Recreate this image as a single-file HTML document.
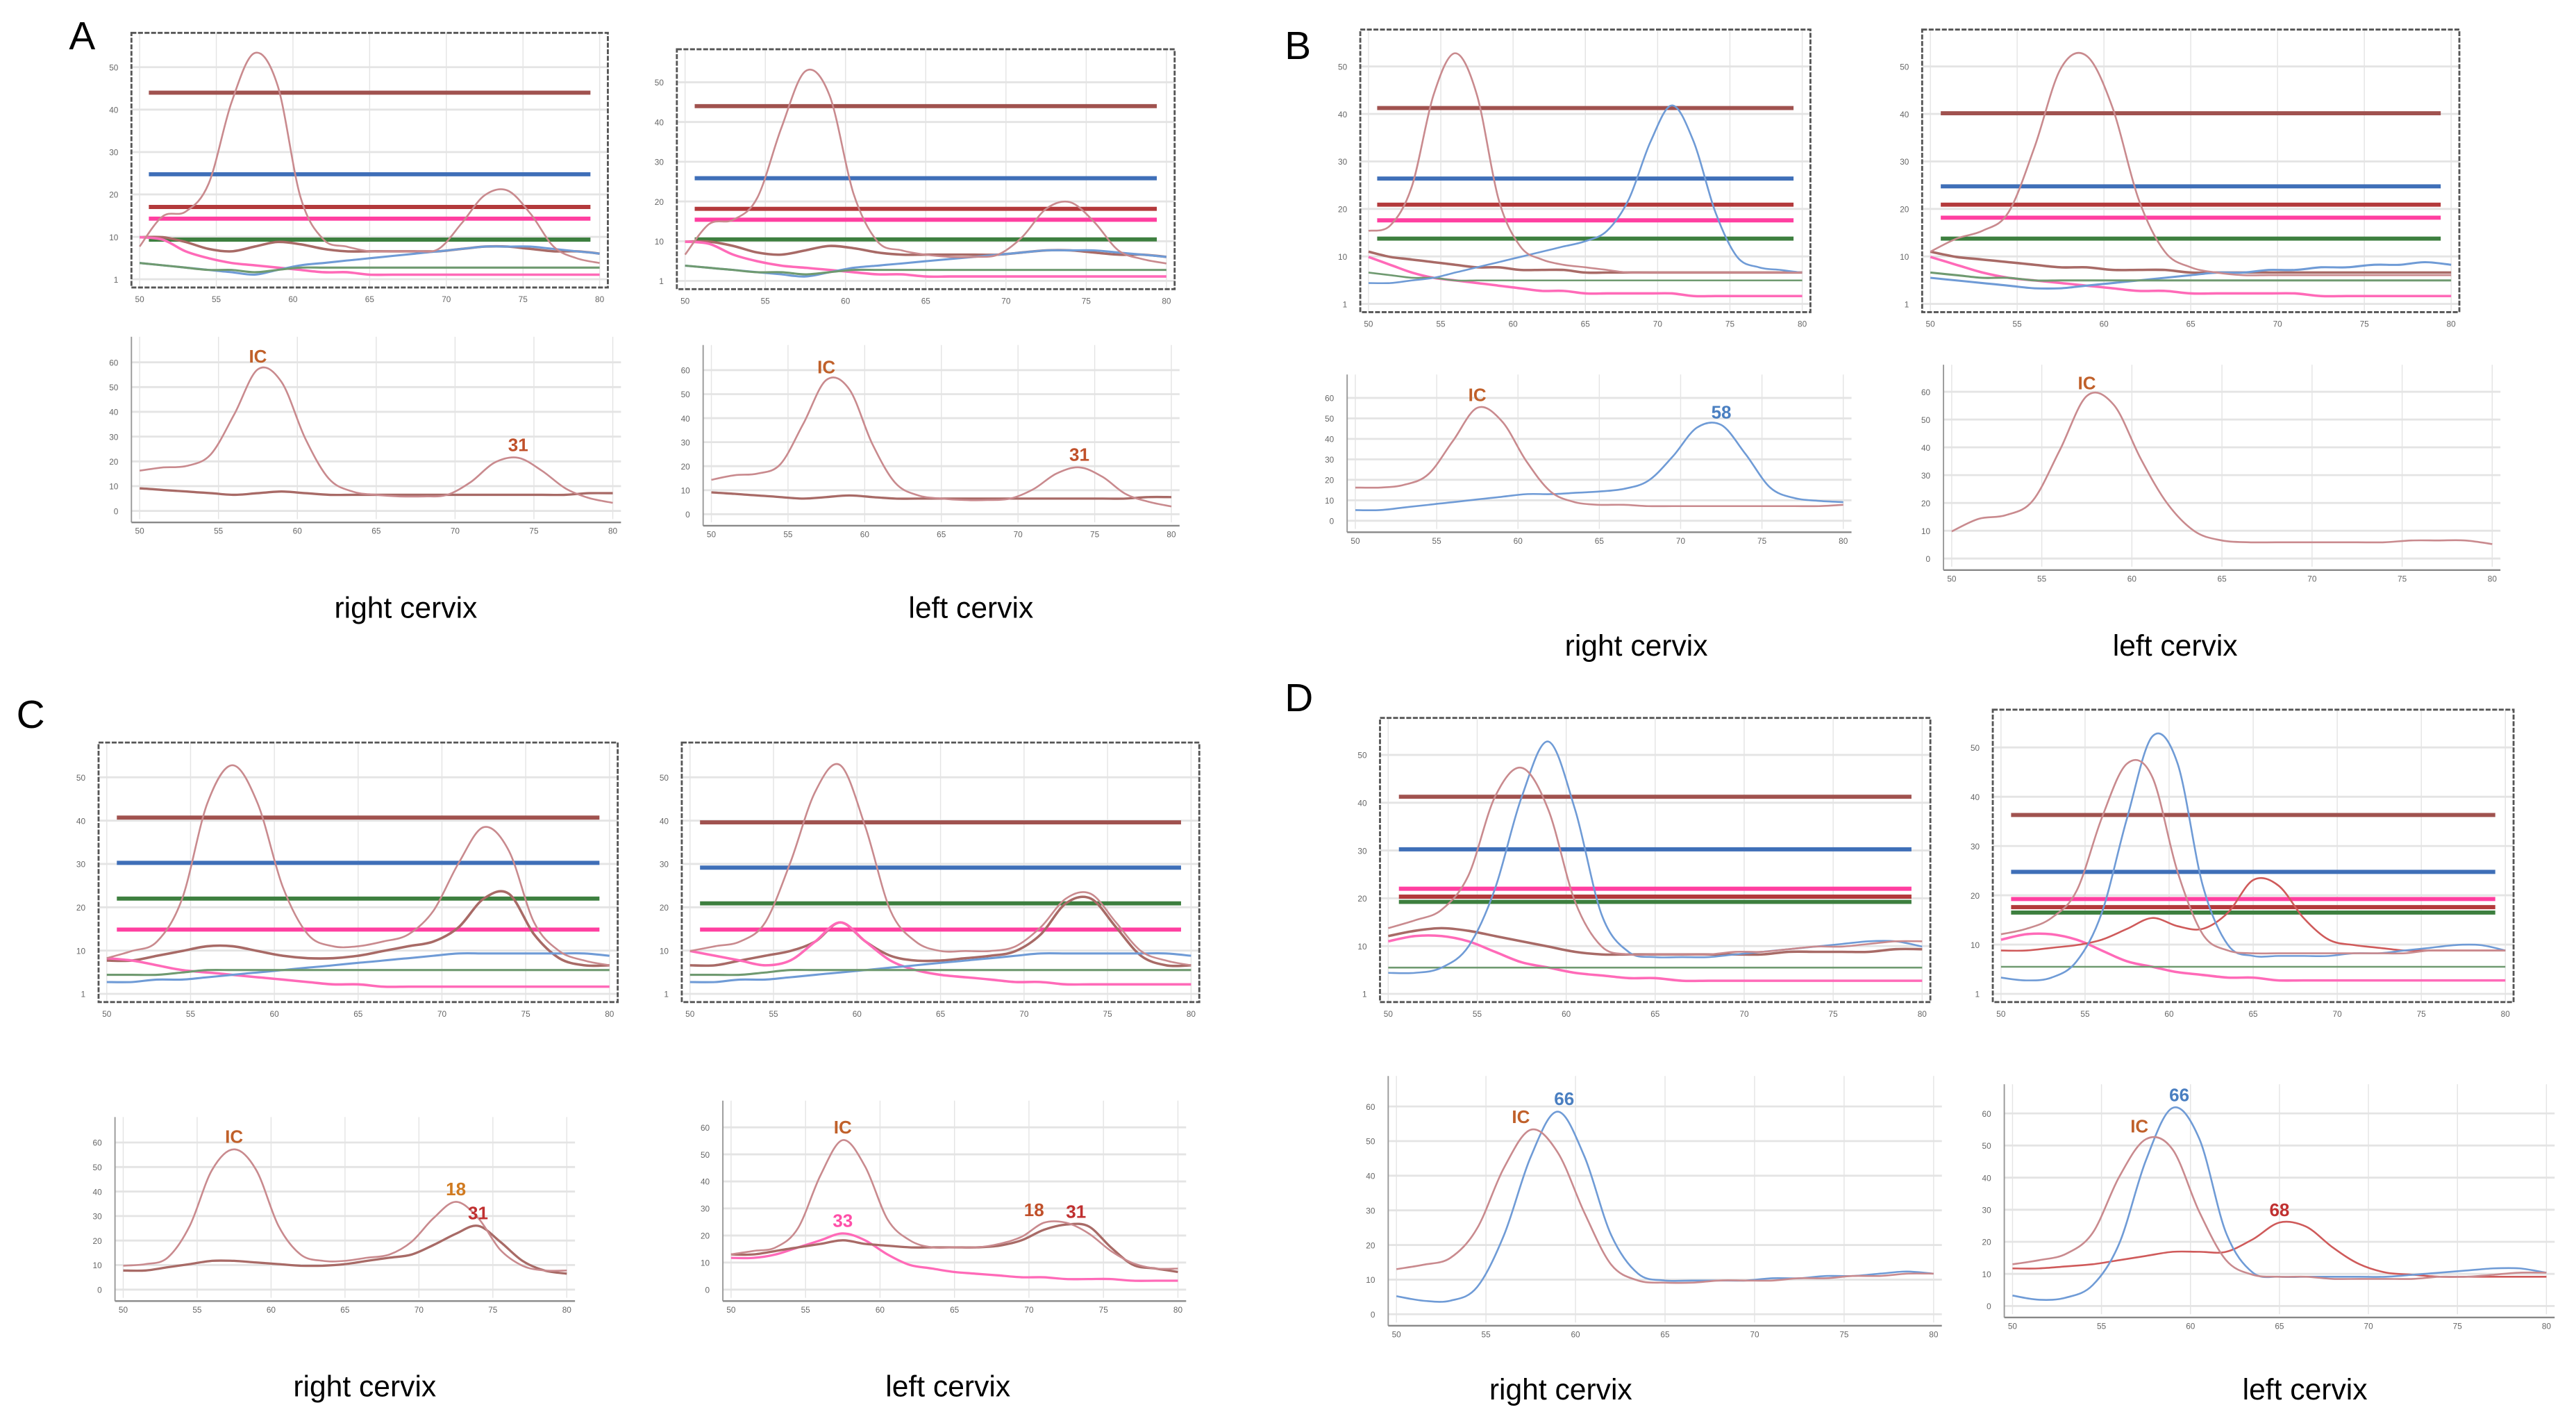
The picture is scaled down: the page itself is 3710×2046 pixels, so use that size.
<!DOCTYPE html>
<html><head><meta charset="utf-8"><style>
html,body{margin:0;padding:0;background:#fff;}
svg{display:block;}
</style></head><body>
<svg id="fig" xmlns="http://www.w3.org/2000/svg" width="3710" height="2046" viewBox="0 0 1568 865" preserveAspectRatio="none" font-family="Liberation Sans, sans-serif">
<rect width="1568" height="865" fill="#fff"/>
<g id="charts"></g>
<text x="42" y="30" font-size="24">A</text>
<text x="782" y="36" font-size="24">B</text>
<text x="10" y="443" font-size="24">C</text>
<text x="782" y="433" font-size="24">D</text>
<text x="247" y="376" font-size="18" text-anchor="middle">right cervix</text>
<text x="591" y="376" font-size="18" text-anchor="middle">left cervix</text>
<text x="996" y="399" font-size="18" text-anchor="middle">right cervix</text>
<text x="1324" y="399" font-size="18" text-anchor="middle">left cervix</text>
<text x="222" y="850" font-size="18" text-anchor="middle">right cervix</text>
<text x="577" y="850" font-size="18" text-anchor="middle">left cervix</text>
<text x="950" y="852" font-size="18" text-anchor="middle">right cervix</text>
<text x="1403" y="852" font-size="18" text-anchor="middle">left cervix</text>
</svg>
<script>
const xs = [0,5,10,15,20,25,30,35,40,45,50,55,60,65,70,75,80,85,90,95,100];
const xTickLabels = ["50","55","60","65","70","75","80"];
const yTickLabelsTop = ["1","10","20","30","40","50"];
const yTickLabelsBot = ["0","10","20","30","40","50","60"];

const aTL_peak = [14,27,29,41,76,97,83,35,17,14,12,12,12,13,24,36,38,28,14,9,7];
const aTL_brown = [18,18,16,13,12,14,16,15,13,12,12,12,12,12,13,14,14,13,12,12,11];
const aTL_pink = [18,17,12,9,7,6,5,4,3,3,2,2,2,2,2,2,2,2,2,2,2];
const aTL_blue = [7,6,5,4,3,2,4,6,7,8,9,10,11,12,13,14,14,14,13,12,11];
const aTL_green = [7,6,5,4,4,3,4,5,5,5,5,5,5,5,5,5,5,5,5,5,5];
const aTL_levels = [80,45,31,26,17];
const aTR_peak = [12,26,28,38,70,96,85,40,18,14,12,11,11,12,20,33,36,27,14,10,8];
const aTR_levels = [80,47,33,28,19];
const aBL_peak = [25,27,28,35,60,88,80,45,20,12,10,9,9,10,18,30,33,25,14,8,5];
const aBL_base = [14,13,12,11,10,11,12,11,10,10,10,10,10,10,10,10,10,10,10,11,11];
const aBR_peak = [22,25,26,32,58,86,80,45,20,12,10,9,9,10,16,26,30,24,13,8,5];

const bTL_peak = [28,30,45,80,96,80,40,22,17,15,14,13,12,12,12,12,12,12,12,12,12];
const bTL_blue = [8,8,9,10,12,14,16,18,20,22,24,28,40,62,76,62,35,18,14,13,12];
const bTL_brown = [20,18,17,16,15,14,14,13,13,13,12,12,12,12,12,12,12,12,12,12,12];
const bTL_pink = [18,15,12,10,9,8,7,6,5,5,4,4,4,4,4,3,3,3,3,3,3];
const bTL_green = [12,11,10,10,9,9,9,9,9,9,9,9,9,9,9,9,9,9,9,9,9];
const bTL_levels = [75,48,38,32,25];
const bTR_peak = [20,25,28,35,60,90,95,75,40,20,14,12,11,11,11,11,11,11,11,11,11];
const bTR_blue = [10,9,8,7,6,6,7,8,9,10,11,12,12,13,13,14,14,15,15,16,15];
const bTR_levels = [73,45,38,33,25];
const bBL_peak = [25,25,27,35,60,85,75,45,22,14,12,12,11,11,11,11,11,11,11,11,12];
const bBL_blue = [8,8,10,12,14,16,18,20,20,21,22,24,30,48,70,72,50,25,17,15,14];
const bBR_peak = [15,22,24,32,60,90,85,55,30,15,10,9,9,9,9,9,9,10,10,10,8];

const cTL_peak = [15,18,22,40,80,96,80,45,25,20,20,22,25,35,55,70,60,30,18,14,12];
const cTL_brown = [14,14,16,18,20,20,18,16,15,15,16,18,20,22,28,40,42,25,15,12,12];
const cTL_pink = [15,14,12,10,9,8,7,6,5,4,4,3,3,3,3,3,3,3,3,3,3];
const cTL_blue = [5,5,6,6,7,8,9,10,11,12,13,14,15,16,17,17,17,17,17,17,16];
const cTL_green = [8,8,8,9,10,10,10,10,10,10,10,10,10,10,10,10,10,10,10,10,10];
const cTL_levels = [74,55,40,27];
const cTR_peak = [18,20,22,30,55,85,96,70,35,22,18,18,18,20,28,40,42,30,18,14,12];
const cTR_brown = [12,12,14,16,18,22,30,22,16,14,14,15,16,18,25,38,40,28,16,12,12];
const cTR_pink = [18,16,14,12,14,22,30,22,14,10,8,7,6,5,5,4,4,4,4,4,4];
const cTR_levels = [72,53,38,27];
const cBL_peak = [15,16,20,40,75,88,75,40,22,18,18,20,22,30,45,55,45,25,15,12,12];
const cBL_base = [12,12,14,16,18,18,17,16,15,15,16,18,20,22,28,35,40,30,18,12,10];
const cBR_peak = [20,22,24,35,65,85,70,40,28,24,24,24,26,30,38,38,32,22,15,12,12];
const cBR_base = [20,20,22,24,26,28,26,25,24,24,24,24,25,28,34,37,36,24,14,12,10];
const cBR_pink = [18,18,20,24,28,32,28,20,14,12,10,9,8,7,7,6,6,6,5,5,5];

const dTL_peak = [25,28,32,45,75,86,70,35,18,15,15,15,15,16,16,17,18,18,19,20,20];
const dTL_blue = [8,8,10,18,40,75,96,70,30,16,14,14,14,15,16,17,18,19,20,20,18];
const dTL_brown = [22,24,25,24,22,20,18,16,15,15,15,15,15,15,15,16,16,16,16,17,17];
const dTL_pink = [20,22,22,20,16,12,10,8,7,6,6,5,5,5,5,5,5,5,5,5,5];
const dTL_green = [10,10,10,10,10,10,10,10,10,10,10,10,10,10,10,10,10,10,10,10,10];
const dTL_levels = [75,55,40,37,35];
const dTR_peak = [22,24,28,38,65,85,80,45,22,16,15,15,15,15,15,15,15,16,16,16,16];
const dTR_blue = [6,5,6,12,30,65,95,85,40,18,14,14,14,14,15,15,16,17,18,18,16];
const dTR_red = [16,16,17,18,20,24,28,25,24,30,42,40,28,20,18,17,16,16,16,16,16];
const dTR_levels = [66,45,35,32,30];
const dBL_peak = [20,22,25,38,65,82,72,45,22,15,14,14,15,15,15,16,16,17,17,18,18];
const dBL_blue = [8,6,6,12,35,70,90,70,35,18,15,15,15,15,16,16,17,17,18,19,18];
const dBR_peak = [20,22,25,35,62,80,75,45,22,15,14,14,13,13,13,13,14,14,15,16,16];
const dBR_blue = [5,3,4,10,30,70,95,80,35,16,14,14,14,14,14,15,16,17,18,18,16];
const dBR_red = [18,18,19,20,22,24,26,26,26,32,40,38,28,20,16,15,14,14,14,14,14];

const C = {peak:'#c98a8e', brownL:'#a0524f', blueL:'#3f6fb8', redL:'#b3393b', pinkL:'#ff3fa0', greenL:'#3d7f3f',
  brown:'#a86a66', pink:'#ff6ab8', blue:'#6f9bd6', green:'#6f9a70', red:'#cf5a5a'};
const NS = 'http://www.w3.org/2000/svg';
const root = document.getElementById('charts');

function mk(tag, attrs, parent){ const e=document.createElementNS(NS,tag); for(const k in attrs) e.setAttribute(k,attrs[k]); parent.appendChild(e); return e; }

function smooth(pts){
  let d='M'+pts[0][0].toFixed(1)+','+pts[0][1].toFixed(1);
  for(let i=0;i<pts.length-1;i++){
    const p0=pts[Math.max(0,i-1)],p1=pts[i],p2=pts[i+1],p3=pts[Math.min(pts.length-1,i+2)];
    const c1=[p1[0]+(p2[0]-p0[0])/6,p1[1]+(p2[1]-p0[1])/6];
    const c2=[p2[0]-(p3[0]-p1[0])/6,p2[1]-(p3[1]-p1[1])/6];
    d+=' C'+c1[0].toFixed(1)+','+c1[1].toFixed(1)+' '+c2[0].toFixed(1)+','+c2[1].toFixed(1)+' '+p2[0].toFixed(1)+','+p2[1].toFixed(1);
  }
  return d;
}

function chart(name, type, bx, levels, levelColors, series, labels){
  const g = mk('g',{},root);
  
  
  const [x0,y0,x1,y1] = bx;
  const ix0=x0+5, ix1=x1-5, iy0=y0+8, iy1=y1-5;
  const sx = v => ix0 + (v/100)*(ix1-ix0);
  const sy = v => iy1 - (v/100)*(iy1-iy0);
  for(let i=0;i<=6;i++){ const x=sx(i*100/6); mk('line',{x1:x,y1:y0,x2:x,y2:y1,stroke:'#e4e4e4','stroke-width':0.6},g); }
  const nY = type==='top'?yTickLabelsTop.length:yTickLabelsBot.length;
  for(let i=0;i<nY;i++){ const y=sy(i*100/(nY-0.5)); mk('line',{x1:x0,y1:y,x2:x1,y2:y,stroke:'#e4e4e4','stroke-width':1.2},g);
    const t=mk('text',{x:x0-8,y:y+2,'font-size':5,fill:'#666','text-anchor':'end'},g);
    t.textContent = type==='top'?yTickLabelsTop[i]:yTickLabelsBot[i];
      }
  xTickLabels.forEach((lab,i)=>{ const t=mk('text',{x:sx(i*100/6),y:y1+9,'font-size':5,fill:'#666','text-anchor':'middle'},g); t.textContent=lab;
      });
  if(type==='top'){
    const r=mk('rect',{x:x0,y:y0,width:x1-x0,height:y1-y0,fill:'none',stroke:'#555','stroke-width':1.2,'stroke-dasharray':'3 1'},g);
     
  } else {
    mk('line',{x1:x0,y1:y0,x2:x0,y2:y1+2,stroke:'#999','stroke-width':0.8},g);
    const a=mk('line',{x1:x0,y1:y1+2,x2:x1,y2:y1+2,stroke:'#888','stroke-width':1},g);
     
  }
  levels.forEach((lv,i)=>{ const l=mk('line',{x1:sx(2),y1:sy(lv),x2:sx(98),y2:sy(lv),stroke:levelColors[i],'stroke-width':2.5},g);
      });
  series.forEach(s=>{ const pts=xs.map((x,i)=>[sx(x),sy(s.v[i])]);
    const p=mk('path',{d:smooth(pts),fill:'none',stroke:s.c,'stroke-width':s.w||1.1},g);
      });
  (labels||[]).forEach(L=>{ const s=L.v; let mi=0; s.forEach((v,i)=>{ if(v>s[mi]) mi=i; });
    if(L.idx!==undefined) mi=L.idx;
    const t=mk('text',{x:sx(xs[mi])+(L.dx||0),y:sy(s[mi])-4,'font-size':11,'font-weight':'bold',fill:L.c,'text-anchor':'middle'},g);
    t.textContent=L.t;   });
}

const L5=[C.brownL,C.blueL,C.redL,C.pinkL,C.greenL];
const LC=[C.brownL,C.blueL,C.greenL,C.pinkL];
const LD=[C.brownL,C.blueL,C.pinkL,C.redL,C.greenL];
const lows = (b,p,bl,gr)=>[{n:'brown-curve',v:b,c:C.brown,w:1.5},{n:'pink-curve',v:p,c:C.pink,w:1.5},{n:'blue-curve',v:bl,c:C.blue,w:1.3},{n:'green-curve',v:gr,c:C.green,w:1.3}];

chart('chart-a-right-raw','top',[80,20,370,175],aTL_levels,L5,[...lows(aTL_brown,aTL_pink,aTL_blue,aTL_green),{n:'ic-curve',v:aTL_peak,c:C.peak}]);
chart('chart-a-left-raw','top',[412,30,715,176],aTR_levels,L5,[...lows(aTL_brown,aTL_pink,aTL_blue,aTL_green),{n:'ic-curve',v:aTR_peak,c:C.peak}]);
chart('chart-a-right-derivative','bot',[80,205,378,316],[],[],[{n:'base-curve',v:aBL_base,c:C.brown,w:1.4},{n:'ic-curve',v:aBL_peak,c:C.peak}],
  [{t:'IC',v:aBL_peak,c:'#c0602a'},{t:'31',v:aBL_peak,c:'#c0502a',idx:16}]);
chart('chart-a-left-derivative','bot',[428,210,718,318],[],[],[{n:'base-curve',v:aBL_base,c:C.brown,w:1.4},{n:'ic-curve',v:aBR_peak,c:C.peak}],
  [{t:'IC',v:aBR_peak,c:'#c0602a'},{t:'31',v:aBR_peak,c:'#c0502a',idx:16}]);
chart('chart-b-right-raw','top',[828,18,1102,190],bTL_levels,L5,[{n:'brown-curve',v:bTL_brown,c:C.brown,w:1.5},{n:'pink-curve',v:bTL_pink,c:C.pink,w:1.5},{n:'green-curve',v:bTL_green,c:C.green},{n:'blue-curve',v:bTL_blue,c:C.blue},{n:'ic-curve',v:bTL_peak,c:C.peak}]);
chart('chart-b-left-raw','top',[1170,18,1497,190],bTR_levels,L5,[...lows(bTL_brown,bTL_pink,bTR_blue,bTL_green),{n:'ic-curve',v:bTR_peak,c:C.peak}]);
chart('chart-b-right-derivative','bot',[820,228,1127,322],[],[],[{n:'blue-curve',v:bBL_blue,c:C.blue},{n:'ic-curve',v:bBL_peak,c:C.peak}],
  [{t:'IC',v:bBL_peak,c:'#c0602a'},{t:'58',v:bBL_blue,c:'#4a7fc1'}]);
chart('chart-b-left-derivative','bot',[1183,222,1522,345],[],[],[{n:'ic-curve',v:bBR_peak,c:C.peak}],
  [{t:'IC',v:bBR_peak,c:'#c0602a'}]);
chart('chart-c-right-raw','top',[60,452,376,610],cTL_levels,LC,[...lows(cTL_brown,cTL_pink,cTL_blue,cTL_green),{n:'ic-curve',v:cTL_peak,c:C.peak}]);
chart('chart-c-left-raw','top',[415,452,730,610],cTR_levels,LC,[...lows(cTR_brown,cTR_pink,cTL_blue,cTL_green),{n:'ic-curve',v:cTR_peak,c:C.peak}]);
chart('chart-c-right-derivative','bot',[70,680,350,790],[],[],[{n:'base-curve',v:cBL_base,c:C.brown,w:1.4},{n:'ic-curve',v:cBL_peak,c:C.peak}],
  [{t:'IC',v:cBL_peak,c:'#c0602a'},{t:'18',v:cBL_peak,c:'#d07a20',idx:15},{t:'31',v:cBL_base,c:'#c03030',idx:16}]);
chart('chart-c-left-derivative','bot',[440,670,722,790],[],[],[{n:'pink-curve',v:cBR_pink,c:C.pink,w:1.4},{n:'base-curve',v:cBR_base,c:C.brown,w:1.4},{n:'ic-curve',v:cBR_peak,c:C.peak}],
  [{t:'IC',v:cBR_peak,c:'#c0602a'},{t:'33',v:cBR_pink,c:'#ff4fa8'},{t:'18',v:cBR_peak,c:'#c0502a',idx:14,dx:-6},{t:'31',v:cBR_base,c:'#c03030',idx:15,dx:6}]);
chart('chart-d-right-raw','top',[840,437,1175,610],dTL_levels,LD,[{n:'brown-curve',v:dTL_brown,c:C.brown,w:1.5},{n:'pink-curve',v:dTL_pink,c:C.pink,w:1.5},{n:'green-curve',v:dTL_green,c:C.green},{n:'blue-curve',v:dTL_blue,c:C.blue},{n:'ic-curve',v:dTL_peak,c:C.peak}]);
chart('chart-d-left-raw','top',[1213,432,1530,610],dTR_levels,LD,[{n:'pink-curve',v:dTL_pink,c:C.pink,w:1.5},{n:'green-curve',v:dTL_green,c:C.green},{n:'red-curve',v:dTR_red,c:C.red},{n:'blue-curve',v:dTR_blue,c:C.blue},{n:'ic-curve',v:dTR_peak,c:C.peak}]);
chart('chart-d-right-derivative','bot',[845,655,1182,805],[],[],[{n:'blue-curve',v:dBL_blue,c:C.blue},{n:'ic-curve',v:dBL_peak,c:C.peak}],
  [{t:'IC',v:dBL_peak,c:'#c0602a',dx:-6},{t:'66',v:dBL_blue,c:'#4a7fc1',dx:4}]);
chart('chart-d-left-derivative','bot',[1220,660,1555,800],[],[],[{n:'red-curve',v:dBR_red,c:C.red},{n:'blue-curve',v:dBR_blue,c:C.blue},{n:'ic-curve',v:dBR_peak,c:C.peak}],
  [{t:'IC',v:dBR_peak,c:'#c0602a',dx:-4},{t:'66',v:dBR_blue,c:'#4a7fc1',dx:4},{t:'68',v:dBR_red,c:'#c03030'}]);
</script>
</body></html>
